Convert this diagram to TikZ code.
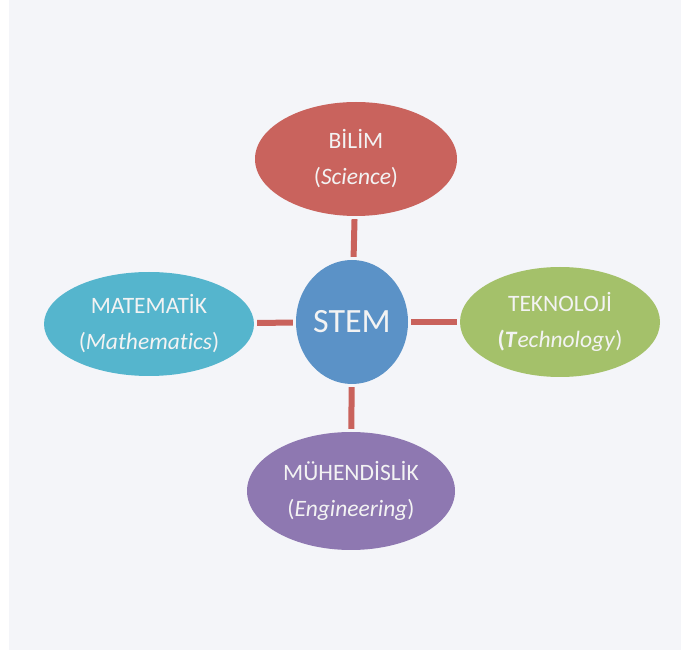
\documentclass[tikz,border=0pt]{standalone}
\usepackage{fontspec}
\setmainfont{Carlito}[RawFeature=-liga]
\usetikzlibrary{shapes.geometric}
\definecolor{panel}{HTML}{F4F5F9}
\definecolor{scired}{HTML}{C9635D}
\definecolor{stemblue}{HTML}{5B92C7}
\definecolor{mathcyan}{HTML}{55B5CD}
\definecolor{techgreen}{HTML}{A4C16A}
\definecolor{engpurple}{HTML}{8E78B1}
\definecolor{linkred}{HTML}{C9625C}
\definecolor{softwhite}{HTML}{F3F3F3}
\begin{document}
\begin{tikzpicture}[x=1pt,y=-1pt,
  field/.style={ellipse, inner sep=0pt, text=softwhite, align=center,
    font=\fontsize{23.5}{36}\selectfont},
  hub/.style={ellipse, inner sep=0pt, fill=stemblue, text=softwhite,
    font=\fontsize{34}{40}\selectfont},
  link/.style={draw=linkred, line width=6pt, shorten <=3pt, shorten >=3pt}]
  % page and panel
  \fill[white] (0,0) rectangle (681,652);
  \fill[panel] (9,0) rectangle (681,650);
  \useasboundingbox (0,0) rectangle (681,652);

  % central hub
  \node[hub, minimum width=112pt, minimum height=124pt] (stem) at (352,322) {STEM};

  % the four fields
  \node[field, fill=scired, minimum width=202pt, minimum height=114pt] (sci) at (356,159)
    {BİLİM\\(\textit{Science})};
  \node[field, fill=mathcyan, minimum width=210pt, minimum height=104pt] (math) at (149,324)
    {MATEMATİK\\(\textit{Mathematics})};
  \node[field, fill=techgreen, minimum width=200pt, minimum height=110pt] (tech) at (560,322)
    {TEKNOLOJİ\\\textbf{(\textit{T}}\textit{echnology})};
  \node[field, fill=engpurple, minimum width=208pt, minimum height=118pt] (eng) at (351,491)
    {MÜHENDİSLİK\\(\textit{Engineering})};

  % connectors
  \draw[link] (sci) -- (stem);
  \draw[link] (stem) -- (eng);
  \draw[link] (math) -- (stem);
  \draw[link] (stem) -- (tech);
\end{tikzpicture}
\end{document}
